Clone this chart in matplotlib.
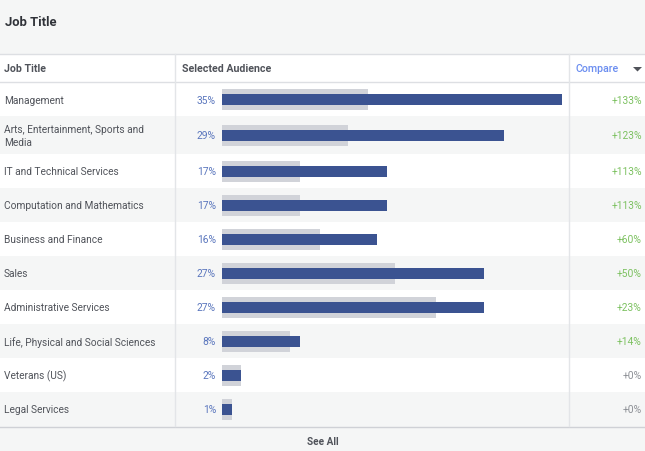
import matplotlib
matplotlib.use("Agg")
import matplotlib.pyplot as plt
from matplotlib.patches import Rectangle, Polygon

plt.rcParams['font.family'] = ['Roboto', 'DejaVu Sans']

jobs = ["Management", "Arts, Entertainment, Sports and\nMedia", "IT and Technical Services",
        "Computation and Mathematics", "Business and Finance", "Sales", "Administrative Services",
        "Life, Physical and Social Sciences", "Veterans (US)", "Legal Services"]
selected = [35, 29, 17, 17, 16, 27, 27, 8, 2, 1]
baseline = [15, 13, 8, 8, 10.1, 17.8, 22, 7, 2, 1]
compare = ["+133%", "+123%", "+113%", "+113%", "+60%", "+50%", "+23%", "+14%", "+0%", "+0%"]
row_heights = [34, 38, 34, 34, 34, 34, 34, 34, 34, 34]

W, H = 645, 452
BG, LINE, TXT = "#f5f6f6", "#dddfe3", "#50535a"
BLUE, GREY, PCT, GREEN, NEUT, LINK = "#3b5391", "#d1d3d9", "#5a76bd", "#7cc160", "#8d9096", "#6a8df0"

fig = plt.figure(figsize=(W / 100, H / 100), dpi=100, facecolor=BG)
page = fig.add_axes([0, 0, 1, 1])
page.set_xlim(0, W); page.set_ylim(H, 0); page.axis("off")

# header strip
page.add_patch(Rectangle((0, 55), W, 28, fc="white", ec="none"))
page.plot([0, W], [54.5, 54.5], color=LINE, lw=1)
page.plot([0, W], [82.5, 82.5], color=LINE, lw=1)

# rows
top = 83
centers = []
for i, (job, h) in enumerate(zip(jobs, row_heights)):
    page.add_patch(Rectangle((0, top), W, h, fc="white" if i % 2 == 0 else BG, ec="none"))
    c = top + h / 2
    centers.append(c)
    page.text(4, c + 0.5, job, fontsize=7.3, color=TXT, va="center", ha="left", linespacing=1.4)
    page.text(216, c + 0.5, f"{selected[i]}%", fontsize=7.4, color=PCT, va="center", ha="right")
    page.text(642, c + 0.5, compare[i], fontsize=7.4, color=GREEN if compare[i] != "+0%" else NEUT,
              va="center", ha="right")
    top += h

page.plot([0, W], [top + 0.5, top + 0.5], color="#cfd1d6", lw=1)
for x in (175, 569):
    page.plot([x, x], [55, top], color="#e3e5e8", lw=1)

page.text(5, 22, "Job Title", fontsize=9.4, fontweight="bold", color="#2f3238", va="center")
page.text(4, 69.5, "Job Title", fontsize=7.6, fontweight="bold", color=TXT, va="center")
page.text(182, 69.5, "Selected Audience", fontsize=7.7, fontweight="bold", color=TXT, va="center")
page.text(576, 69.5, "Compare", fontsize=7.7, fontweight="medium", color=LINK, va="center")
page.add_patch(Polygon([[633, 68], [642, 68], [637.5, 72.5]], fc=TXT, ec="none"))
page.text(322.5, 442, "See All", fontsize=7.2, fontweight="bold", color=TXT, va="center", ha="center")

# bars on their own percent scale
ax = fig.add_axes([222 / W, 0, 340 / W, 1], facecolor="none")
ax.set_xlim(0, 35); ax.set_ylim(H, 0); ax.axis("off")
ax.barh(centers, baseline, height=21, color=GREY, edgecolor="none")
ax.barh(centers, selected, height=11, color=BLUE, edgecolor="none")

fig.savefig("out.png", dpi=100, facecolor=BG)
